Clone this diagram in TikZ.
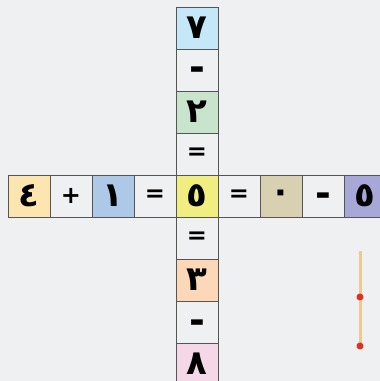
\documentclass[tikz,border=0pt]{standalone}
\usepackage{fontspec}
\usepackage{xcolor}
\usepackage{tikz}
\newfontfamily\arabicfont[Script=Arabic]{DejaVu Sans}
\definecolor{paper}{HTML}{EFF0F2}
\definecolor{cellline}{HTML}{555555}
\definecolor{boxorange}{HTML}{FDE5B0}
\definecolor{boxblue}{HTML}{AEC8E8}
\definecolor{boxyellow}{HTML}{F0EE80}
\definecolor{boxsand}{HTML}{D8D0B0}
\definecolor{boxviolet}{HTML}{A8A8D8}
\definecolor{boxsky}{HTML}{C4E8F8}
\definecolor{boxgreen}{HTML}{C8E4CC}
\definecolor{boxpeach}{HTML}{FCD8B8}
\definecolor{boxpink}{HTML}{F4D8E8}
\definecolor{stick}{HTML}{F0C890}
\definecolor{stickhead}{HTML}{E03020}
\tikzset{cell/.style={draw=cellline,line width=0.8pt,minimum size=42pt,inner sep=0pt,
  font=\arabicfont\bfseries\fontsize{24}{24}\selectfont},
  numcell/.style={cell,font=\arabicfont\bfseries\fontsize{34}{34}\selectfont},
  dashcell/.style={cell,font=\arabicfont\bfseries\fontsize{38}{38}\selectfont,
    text height=22pt,text depth=0pt}}

\begin{document}
\begin{tikzpicture}[x=1pt,y=1pt]
\fill[paper] (0,0) rectangle (380,381);
\useasboundingbox (0,0) rectangle (380,381);
\begin{scope}
\clip (0,0) rectangle (380,381);
% column, top to bottom
\foreach \sym/\col/\k/\kind in {٧/boxsky/0/numcell,-/paper/1/dashcell,٢/boxgreen/2/numcell,=/paper/3/cell,
    =/paper/5/cell,٣/boxpeach/6/numcell,-/paper/7/dashcell,٨/boxpink/8/numcell}
  \node[\kind,fill=\col] (c\k) at (197,{353-42*\k}) {\sym};
% row, left to right
\foreach \sym/\col/\kind [count=\i] in {٤/boxorange/numcell,+/paper/cell,١/boxblue/numcell,=/paper/cell,
    ٥/boxyellow/numcell,=/paper/cell,٠/boxsand/numcell,-/paper/dashcell,٥/boxviolet/numcell}
  \node[\kind,fill=\col] (r\i) at ({29+42*(\i-1)},185) {\sym};
\end{scope}
% match
\coordinate (stickTop) at (360,130);
\coordinate (stickBot) at (360,35);
\draw[stick,line width=3pt] (stickTop) -- (stickBot);
\fill[stickhead] (360,84) circle (3.5);
\fill[stickhead] (stickBot) circle (3.5);
\end{tikzpicture}
\end{document}
